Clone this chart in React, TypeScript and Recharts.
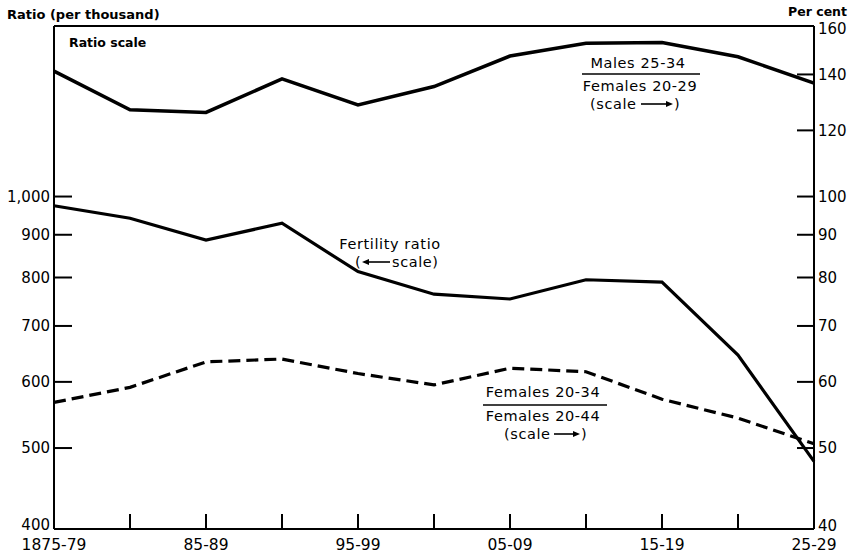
import React from 'react';
import { LineChart, Line, XAxis, YAxis, ReferenceLine, Customized } from 'recharts';

const categories = ['1875-79', '1880-84', '85-89', '1890-94', '95-99', '1900-04', '05-09', '1910-14', '15-19', '1920-24', '25-29'];
const xTickLabels = ['1875-79', '', '85-89', '', '95-99', '', '05-09', '', '15-19', '', '25-29'];
const malesToFemales = [141.3, 127.0, 126.1, 138.3, 128.7, 135.4, 147.3, 152.6, 152.9, 147.0, 136.7];
const fertilityRatio = [975, 942, 887, 929, 813, 764, 754, 795, 790, 646, 482];
const females2034To2044 = [56.7, 59.1, 63.4, 63.9, 61.4, 59.5, 62.3, 61.7, 57.2, 54.3, 50.6];
const leftTicks = [400, 500, 600, 700, 800, 900, 1000];
const rightTicks = [40, 50, 60, 70, 80, 90, 100, 120, 140, 160];

const data = categories.map((c, i) => ({
  period: c,
  males: malesToFemales[i],
  fertility: fertilityRatio[i],
  females: females2034To2044[i],
}));

const FONT = '"DejaVu Sans", "Liberation Sans", sans-serif';
const ANN = 14.5;

function LeftTick(props: any) {
  const { x, y, payload } = props;
  const v = payload.value;
  const label = v >= 1000 ? v.toLocaleString('en-US') : String(v);
  const shift = v === 400 ? -4 : 0;
  return (
    <g>
      {v !== 400 && <line x1={x} y1={y} x2={x + 18} y2={y} stroke="#000" strokeWidth={2} />}
      <text x={x - 4} y={y + shift} dy="0.36em" textAnchor="end" fontSize={15} fontFamily={FONT} fill="#000">
        {label}
      </text>
    </g>
  );
}

function RightTick(props: any) {
  const { x, y, payload } = props;
  const v = payload.value;
  const shift = v === 40 ? -3 : v === 160 ? 3 : 0;
  return (
    <g>
      {v !== 40 && v !== 160 && <line x1={x - 17} y1={y} x2={x} y2={y} stroke="#000" strokeWidth={2} />}
      <text x={x + 4} y={y + shift} dy="0.36em" textAnchor="start" fontSize={15} fontFamily={FONT} fill="#000">
        {String(v)}
      </text>
    </g>
  );
}

function BottomTick(props: any) {
  const { x, y, index } = props;
  const label = xTickLabels[index] || '';
  const isEnd = index === 0 || index === categories.length - 1;
  return (
    <g>
      {!isEnd && <line x1={x} y1={y} x2={x} y2={y - 15} stroke="#000" strokeWidth={2} />}
      {label && (
        <text x={x} y={y + 21} textAnchor="middle" fontSize={15.5} fontFamily={FONT} fill="#000">
          {label}
        </text>
      )}
    </g>
  );
}

function ArrowRight({ x1, x2, y }: { x1: number; x2: number; y: number }) {
  return (
    <g>
      <line x1={x1} y1={y} x2={x2 - 5} y2={y} stroke="#000" strokeWidth={1.6} />
      <polygon points={`${x2},${y} ${x2 - 7},${y - 3} ${x2 - 7},${y + 3}`} fill="#000" />
    </g>
  );
}

function ArrowLeft({ x1, x2, y }: { x1: number; x2: number; y: number }) {
  return (
    <g>
      <line x1={x1 + 5} y1={y} x2={x2} y2={y} stroke="#000" strokeWidth={1.6} />
      <polygon points={`${x1},${y} ${x1 + 7},${y - 3} ${x1 + 7},${y + 3}`} fill="#000" />
    </g>
  );
}

function Annotations() {
  const t = { fontFamily: FONT, fill: '#000', fontSize: ANN, letterSpacing: 0.6 } as const;
  return (
    <g>
      <text x={7} y={19} fontSize={13} fontWeight="bold" fontFamily={FONT} fill="#000">Ratio (per thousand)</text>
      <text x={847} y={16} fontSize={12.5} fontWeight="bold" textAnchor="end" fontFamily={FONT} fill="#000">Per cent</text>
      <text x={69} y={47} fontSize={12.5} fontWeight="bold" fontFamily={FONT} fill="#000">Ratio scale</text>

      <text x={638} y={68} textAnchor="middle" {...t}>Males 25-34</text>
      <line x1={582} y1={74} x2={700} y2={74} stroke="#000" strokeWidth={1.5} />
      <text x={640} y={91} textAnchor="middle" {...t}>Females 20-29</text>
      <text x={590} y={109} {...t}>(scale</text>
      <ArrowRight x1={641} x2={673} y={104} />
      <text x={674} y={109} {...t}>)</text>

      <text x={390} y={249} textAnchor="middle" {...t}>Fertility ratio</text>
      <text x={355} y={267} {...t}>(</text>
      <ArrowLeft x1={362} x2={390} y={262} />
      <text x={392} y={267} {...t}>scale)</text>

      <text x={543} y={397} textAnchor="middle" {...t}>Females 20-34</text>
      <line x1={483} y1={405} x2={607} y2={405} stroke="#000" strokeWidth={1.5} />
      <text x={543} y={421} textAnchor="middle" {...t}>Females 20-44</text>
      <text x={504} y={439} {...t}>(scale</text>
      <ArrowRight x1={554} x2={580} y={434} />
      <text x={581} y={439} {...t}>)</text>
    </g>
  );
}

export default function App() {
  return (
    <div style={{ position: 'absolute', left: 0, top: 0, background: '#fff' }}>
      <LineChart width={858} height={553} data={data} margin={{ top: 26, right: 0, bottom: 0, left: 0 }}>
        <XAxis
          dataKey="period"
          height={24}
          interval={0}
          tickSize={0}
          tickMargin={0}
          tickLine={false}
          axisLine={{ stroke: '#000', strokeWidth: 2 }}
          tick={<BottomTick />}
        />
        <YAxis
          yAxisId="left"
          orientation="left"
          width={54}
          scale="log"
          domain={[400, 1600]}
          allowDataOverflow
          ticks={leftTicks}
          interval={0}
          tickSize={0}
          tickMargin={0}
          tickLine={false}
          axisLine={{ stroke: '#000', strokeWidth: 2 }}
          tick={<LeftTick />}
        />
        <YAxis
          yAxisId="right"
          orientation="right"
          width={44}
          scale="log"
          domain={[40, 160]}
          allowDataOverflow
          ticks={rightTicks}
          interval={0}
          tickSize={0}
          tickMargin={0}
          tickLine={false}
          axisLine={{ stroke: '#000', strokeWidth: 2 }}
          tick={<RightTick />}
        />
        <ReferenceLine yAxisId="left" y={1600} stroke="#000" strokeWidth={2} ifOverflow="visible" />
        <Line
          yAxisId="right"
          type="linear"
          dataKey="males"
          stroke="#000"
          strokeWidth={3.5}
          dot={false}
          isAnimationActive={false}
        />
        <Line
          yAxisId="left"
          type="linear"
          dataKey="fertility"
          stroke="#000"
          strokeWidth={3.2}
          dot={false}
          isAnimationActive={false}
        />
        <Line
          yAxisId="right"
          type="linear"
          dataKey="females"
          stroke="#000"
          strokeWidth={3.2}
          strokeDasharray="12 6"
          dot={false}
          isAnimationActive={false}
        />
        <Customized component={Annotations} />
      </LineChart>
    </div>
  );
}
